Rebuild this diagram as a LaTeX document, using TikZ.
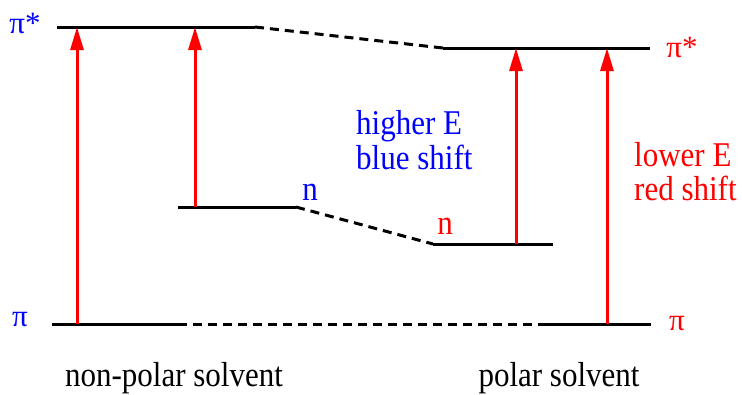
\documentclass[tikz,border=0pt]{standalone}
\usepackage{fontspec}
\setmainfont{Liberation Serif}
\usetikzlibrary{arrows.meta}
\newcommand{\tallt}[1]{\scalebox{1}[1.12]{#1}}
\begin{document}
\begin{tikzpicture}[x=1pt,y=-1pt,
  level/.style={line width=3pt},
  link/.style={line width=3pt,dash pattern=on 9pt off 6pt},
  trans/.style={red,line width=3pt,-{Triangle[length=23pt,width=13pt]}},
  lbl/.style={inner sep=0pt,font=\fontsize{31}{37}\selectfont},
  blbl/.style={lbl,text=blue},
  rlbl/.style={lbl,text=red}]
\useasboundingbox (0,0) rectangle (742,394);
% levels
\coordinate (ps1a) at (57,27);
\coordinate (ps1b) at (255,27);
\coordinate (ps2a) at (443,48);
\coordinate (ps2b) at (650,48);
\coordinate (n1a) at (178,207);
\coordinate (n1b) at (296,207);
\coordinate (n2a) at (433,244);
\coordinate (n2b) at (553,244);
\coordinate (p1a) at (52,324);
\coordinate (p1b) at (178,324);
\coordinate (p2a) at (542,324);
\coordinate (p2b) at (651,324);
\draw[level] (ps1a) -- (ps1b);
\draw[level] (ps2a) -- (ps2b);
\draw[level] (n1a) -- (n1b);
\draw[level] (n2a) -- (n2b);
\draw[level] (p1a) -- (p1b);
\draw[level] (p2a) -- (p2b);
\draw[link] (ps1b) -- (ps2a);
\draw[link] (n1b) -- (n2a);
\draw[link] (p1b) -- (p2a);
% transitions
\coordinate (a1s) at (77,324);  \coordinate (a1e) at (77,27);
\coordinate (a2s) at (195,207); \coordinate (a2e) at (195,27);
\coordinate (a3s) at (516,244); \coordinate (a3e) at (516,48);
\coordinate (a4s) at (607,324); \coordinate (a4e) at (607,48);
\draw[trans] (a1s) -- (a1e);
\draw[trans] (a2s) -- (a2e);
\draw[trans] (a3s) -- (a3e);
\draw[trans] (a4s) -- (a4e);
% labels
\node[blbl] (lps1) at (25,24) {π*};
\node[rlbl] (lps2) at (682,47) {π*};
\node[blbl] (lp1) at (20,320) {π};
\node[rlbl] (lp2) at (677,324) {π};
\node[blbl,anchor=base] (ln1) at (310,200) {\tallt{n}};
\node[rlbl,anchor=base] (ln2) at (445,234) {\tallt{n}};
\node[blbl,anchor=base west] (h1) at (356,134) {\tallt{higher E}};
\node[blbl,anchor=base west] (h2) at (356,169) {\tallt{blue shift}};
\node[rlbl,anchor=base west] (l1) at (634,166) {\tallt{lower E}};
\node[rlbl,anchor=base west] (l2) at (634,200) {\tallt{red shift}};
\node[lbl,anchor=base] (s1) at (174,386) {\tallt{non-polar solvent}};
\node[lbl,anchor=base] (s2) at (559,386) {\tallt{polar solvent}};
\end{tikzpicture}
\end{document}
